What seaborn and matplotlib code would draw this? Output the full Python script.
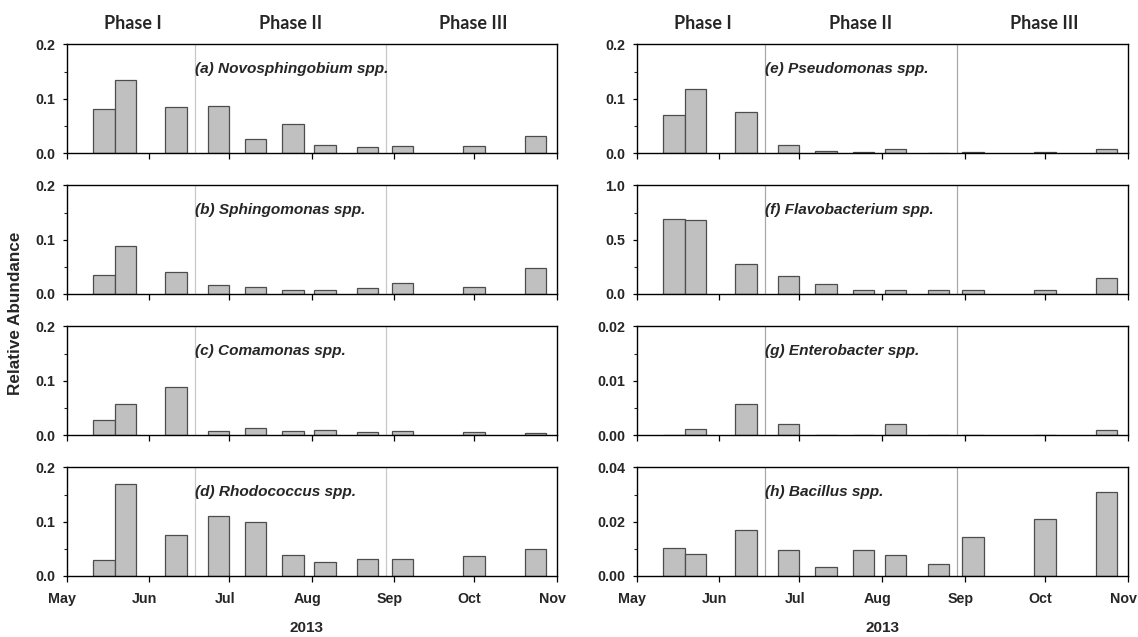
import numpy as np
import pandas as pd
import matplotlib
matplotlib.use("Agg")
import matplotlib.pyplot as plt
import matplotlib.dates as mdates
import matplotlib.transforms as mtransforms
from matplotlib.ticker import MultipleLocator, FormatStrFormatter
import seaborn as sns

# ---------------- data ----------------
sample_dates = ["2013-05-15", "2013-05-23", "2013-06-11", "2013-06-27", "2013-07-11",
                "2013-07-25", "2013-08-06", "2013-08-22", "2013-09-04", "2013-10-01",
                "2013-10-24"]
phase_bounds = ["2013-06-18", "2013-08-29"]
phase_labels = ["Phase I", "Phase II", "Phase III"]
phase_label_dates = ["2013-05-25 18:00", "2013-07-24 00:00", "2013-09-30 18:00"]
month_ticks = ["May", "Jun", "Jul", "Aug", "Sep", "Oct", "Nov"]

novosphingobium = [0.081, 0.135, 0.084, 0.086, 0.026, 0.053, 0.015, 0.011, 0.012, 0.012, 0.032]
sphingomonas    = [0.035, 0.089, 0.040, 0.017, 0.012, 0.007, 0.007, 0.011, 0.020, 0.012, 0.048]
comamonas       = [0.028, 0.058, 0.088, 0.008, 0.013, 0.007, 0.010, 0.005, 0.007, 0.005, 0.004]
rhodococcus     = [0.030, 0.169, 0.076, 0.111, 0.100, 0.038, 0.025, 0.032, 0.032, 0.037, 0.049]
pseudomonas     = [0.070, 0.117, 0.075, 0.015, 0.003, 0.002, 0.007, 0.0, 0.002, 0.002, 0.007]
flavobacterium  = [0.689, 0.683, 0.274, 0.163, 0.089, 0.037, 0.034, 0.034, 0.037, 0.037, 0.151]
enterobacter    = [0.0, 0.00105, 0.00566, 0.0021, 0.0, 0.0, 0.00197, 0.0, 0.0, 0.0, 0.00086]
bacillus        = [0.0102, 0.0081, 0.0170, 0.0094, 0.0033, 0.0097, 0.0079, 0.0044, 0.0145, 0.0209, 0.0308]

panel_titles = ["(a) Novosphingobium spp.", "(b) Sphingomonas spp.", "(c) Comamonas spp.",
                "(d) Rhodococcus spp.", "(e) Pseudomonas spp.", "(f) Flavobacterium spp.",
                "(g) Enterobacter spp.", "(h) Bacillus spp."]
panel_values = [novosphingobium, sphingomonas, comamonas, rhodococcus,
                pseudomonas, flavobacterium, enterobacter, bacillus]
panel_ymax = [0.2, 0.2, 0.2, 0.2, 0.2, 1.0, 0.02, 0.04]
panel_step = [0.1, 0.1, 0.1, 0.1, 0.1, 0.5, 0.01, 0.02]
panel_fmt = ["%.1f", "%.1f", "%.1f", "%.1f", "%.1f", "%.1f", "%.2f", "%.2f"]

# ---------------- style ----------------
sns.set_style("ticks")
plt.rcParams["font.family"] = ["Liberation Sans", "DejaVu Sans"]
plt.rcParams["font.weight"] = "bold"

xnum = mdates.date2num(pd.to_datetime(sample_dates))
bounds_num = mdates.date2num(pd.to_datetime(phase_bounds))
phase_lab_num = mdates.date2num(pd.to_datetime(phase_label_dates, format="%Y-%m-%d %H:%M"))
month_pos = mdates.date2num(pd.date_range("2013-05-01", "2013-11-01", freq="MS"))
xmin = mdates.date2num(pd.Timestamp("2013-05-01"))
xmax = mdates.date2num(pd.Timestamp("2013-11-01"))
text_x = mdates.date2num(pd.Timestamp("2013-06-18 06:00"))

fig = plt.figure(figsize=(11.38, 6.37), dpi=100)
lefts = [66.7 / 1138, 636.7 / 1138]
widths = [490 / 1138, 491 / 1138]
bottoms = [0.7598, 0.5385, 0.3171, 0.0958]
ax_h = 0.1705
line_colors = ["#c8c8c8", "#a8a8a8"]
year_x = [306 / 1138, 883 / 1138]
label_shift = mtransforms.ScaledTranslation(-4.5 / 100, 0, fig.dpi_scale_trans)

for col in range(2):
    for row in range(4):
        idx = col * 4 + row
        ax = fig.add_axes([lefts[col], bottoms[row], widths[col], ax_h])
        df = pd.DataFrame({"date": xnum, "value": panel_values[idx]})
        for b in bounds_num:
            ax.axvline(b, color=line_colors[col], lw=0.9, zorder=0)
        sns.barplot(data=df, x="date", y="value", native_scale=True, width=1.0,
                    color="#c0c0c0", saturation=1, edgecolor="#4d4d4d",
                    linewidth=0.9, errorbar=None, ax=ax, zorder=2)
        ax.set_xlim(xmin, xmax)
        ax.set_ylim(0, panel_ymax[idx])
        ax.yaxis.set_major_locator(MultipleLocator(panel_step[idx]))
        ax.yaxis.set_minor_locator(MultipleLocator(panel_step[idx] / 2))
        ax.yaxis.set_major_formatter(FormatStrFormatter(panel_fmt[idx]))
        ax.set_xticks(month_pos)
        if row == 3:
            ax.set_xticklabels(month_ticks)
        else:
            ax.set_xticklabels([])
        ax.set_xlabel("")
        ax.set_ylabel("")
        ax.tick_params(axis="both", which="major", direction="out", length=3,
                       width=0.9, labelsize=10.3, color="black", pad=5.5)
        ax.tick_params(axis="x", which="major", length=4.3, pad=7.5)
        ax.tick_params(axis="y", which="minor", direction="out", length=2.5, width=0.8)
        if row == 3:
            for lab in ax.get_xticklabels():
                lab.set_transform(lab.get_transform() + label_shift)
        for s in ax.spines.values():
            s.set_visible(True)
            s.set_color("black")
            s.set_linewidth(1.0)
        trans = mtransforms.blended_transform_factory(ax.transData, ax.transAxes)
        ax.text(text_x, 0.77, panel_titles[idx],
                transform=trans, fontsize=11.1, fontweight="bold", fontstyle="italic",
                ha="left", va="center")
        if row == 0:
            for lab, xp in zip(phase_labels, phase_lab_num):
                ax.text(xp, 1.19, lab, transform=trans, ha="center", va="center",
                        fontsize=13, fontweight="bold", family=["Lato", "DejaVu Sans"])
        if row == 3:
            fig.text(year_x[col], 0.014, "2013", ha="center", va="center",
                     fontsize=11, fontweight="bold")

fig.text(0.0135, 0.508, "Relative Abundance", rotation=90, ha="center", va="center",
         fontsize=12.3, fontweight="bold")

fig.savefig("out.png", dpi=100, facecolor="white")
